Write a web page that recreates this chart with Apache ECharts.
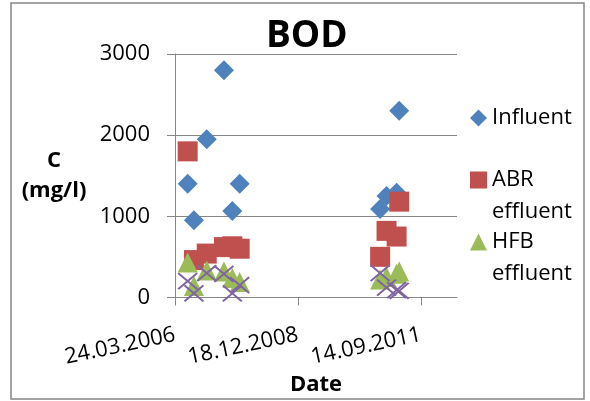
<!DOCTYPE html>
<html><head><meta charset="utf-8">
<script src="https://cdn.jsdelivr.net/npm/echarts@6/dist/echarts.min.js"></script>
<style>html,body{margin:0;padding:0;background:#fff}#c{width:590px;height:401px}</style>
</head><body><div id="c"></div>
<script>
// ---- data ----
const dates    = ['2006-07-05','2006-08-25','2006-12-07','2007-04-26','2007-07-03','2007-09-01','2010-10-17','2010-12-08','2011-02-28','2011-03-21'];
const influent = [1400, 950, 1950, 2800, 1065, 1400, 1090, 1250, 1290, 2300];
const abrEff   = [1800, 460, 540, 620, 630, 600, 500, 820, 750, 1180];
const hfbEff   = [430, 140, 330, 320, 240, 190, 220, 250, 290, 320];
const series4  = [200, 50, 300, 290, 50, 150, 300, 120, 90, 80];
const seriesNames = ['Influent', 'ABR\neffluent', 'HFB\neffluent', 'Series4'];
const xTickDates = ['2006-03-24', '2008-12-18', '2011-09-14'];
const yTicks = [0, 1000, 2000, 3000];

// ---- helpers ----
function toSerial(s) {
  const [y, m, d] = s.split('-').map(Number);
  return Math.round((Date.UTC(y, m - 1, d) - Date.UTC(1899, 11, 30)) / 86400000);
}
function fmt(v) {
  const d = new Date(Date.UTC(1899, 11, 30) + v * 86400000);
  const p = n => String(n).padStart(2, '0');
  return p(d.getUTCDate()) + '.' + p(d.getUTCMonth() + 1) + '.' + d.getUTCFullYear();
}
const xTicks = xTickDates.map(toSerial);
const X_MIN = xTicks[0];
const X_MAX = X_MIN + 2293;
const GRAY = '#868686';
const FONT = "'Open Sans', sans-serif";
const pts = vals => dates.map((d, i) => [toSerial(d), vals[i]]);

function legendAt(name, top) {
  return {
    data: [name],
    left: 470, top: top, padding: 0, orient: 'vertical',
    itemWidth: 17, itemHeight: 17, itemGap: 0,
    formatter: n => (n.indexOf('\n') >= 0 ? ' \n' + n : n),
    textStyle: { fontFamily: FONT, fontSize: 22, color: '#000', lineHeight: 32 }
  };
}

const chart = echarts.init(document.getElementById('c'), null, { renderer: 'canvas' });
chart.setOption({
  animation: false,
  backgroundColor: '#fff',
  title: {
    text: 'BOD', left: 266, top: 18, padding: 0,
    textStyle: { fontFamily: FONT, fontWeight: 'bold', fontSize: 37, color: '#000' }
  },
  graphic: [{
    type: 'rect', shape: { x: 11, y: 3, width: 573, height: 396 },
    style: { fill: 'none', stroke: GRAY, lineWidth: 1.5 }, silent: true
  }],
  legend: [legendAt(seriesNames[0], 102), legendAt(seriesNames[1], 132), legendAt(seriesNames[2], 194)],
  grid: { left: 175, top: 54, width: 282, height: 249.3, containLabel: false },
  xAxis: {
    type: 'value', min: X_MIN, max: X_MAX, interval: 1000,
    axisLine: { show: true, onZero: false, lineStyle: { color: GRAY, width: 1 } },
    axisTick: { show: true, customValues: xTicks, length: 8, lineStyle: { color: GRAY } },
    axisLabel: { customValues: xTicks, rotate: 12, margin: 37, formatter: fmt,
                 fontFamily: FONT, fontSize: 22, color: '#000' },
    splitLine: { show: false },
    name: 'Date', nameLocation: 'middle', nameGap: 66,
    nameTextStyle: { fontFamily: FONT, fontWeight: 'bold', fontSize: 22, color: '#000' }
  },
  yAxis: {
    type: 'value', min: yTicks[0], max: yTicks[yTicks.length - 1], interval: 1000,
    axisLine: { show: true, onZero: false, lineStyle: { color: GRAY, width: 1 } },
    axisTick: { show: true, length: 8, lineStyle: { color: GRAY } },
    axisLabel: { margin: 25, formatter: v => String(v), fontFamily: FONT, fontSize: 22, color: '#000' },
    splitLine: { show: true, lineStyle: { color: GRAY, width: 1 } },
    name: 'C\n(mg/l)', nameLocation: 'middle', nameRotate: 0, nameGap: 121,
    nameTextStyle: { fontFamily: FONT, fontWeight: 'bold', fontSize: 22, color: '#000',
                     lineHeight: 30, align: 'center', verticalAlign: 'middle' }
  },
  series: [
    { type: 'scatter', name: seriesNames[0], data: pts(influent), symbol: 'diamond', symbolSize: 20,
      itemStyle: { color: '#4F81BD', opacity: 1 } },
    { type: 'scatter', name: seriesNames[1], data: pts(abrEff), symbol: 'rect', symbolSize: 20,
      itemStyle: { color: '#C0504D', opacity: 1 } },
    { type: 'scatter', name: seriesNames[2], data: pts(hfbEff), symbol: 'triangle', symbolSize: 20,
      itemStyle: { color: '#9BBB59', opacity: 1 } },
    { type: 'scatter', name: seriesNames[3], data: pts(series4),
      symbol: 'path://M0,0L10,10M10,0L0,10', symbolSize: [19, 16], symbolKeepAspect: false,
      itemStyle: { color: 'transparent', borderColor: '#8064A2', borderWidth: 2, opacity: 1 } }
  ]
});
</script>
</body></html>
